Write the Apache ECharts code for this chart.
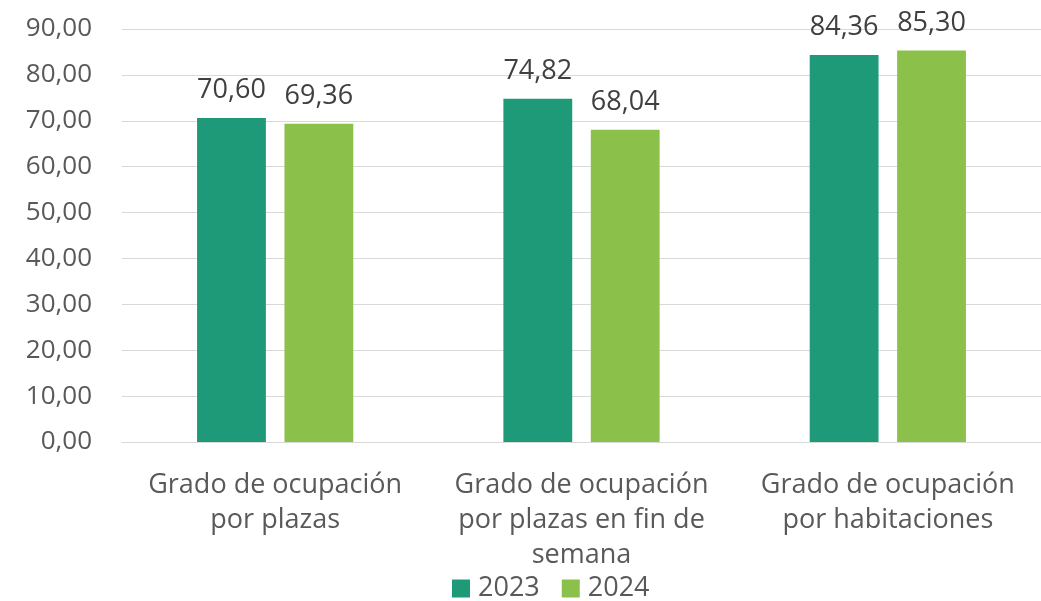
<!DOCTYPE html>
<html>
<head>
<meta charset="utf-8">
<script src="https://cdn.jsdelivr.net/npm/echarts@6/dist/echarts.min.js"></script>
<style>
  html, body { margin: 0; padding: 0; background: #ffffff; }
  #chart { width: 1041px; height: 601px; }
</style>
</head>
<body>
<div id="chart"></div>
<script>
const categories = [
  'Grado de ocupación\npor plazas',
  'Grado de ocupación\npor plazas en fin de\nsemana',
  'Grado de ocupación\npor habitaciones'
];
const values2023 = [70.60, 74.82, 84.36];
const values2024 = [69.36, 68.04, 85.30];
const seriesNames = ['2023', '2024'];

const fmt = v => v.toFixed(2).replace('.', ',');
const font = '"Open Sans", sans-serif';

const chart = echarts.init(document.getElementById('chart'));
chart.setOption({
  animation: false,
  textStyle: { fontFamily: font },
  grid: { left: 122, right: -4, top: 29, bottom: 159, containLabel: false },
  legend: {
    bottom: -6,
    left: 447,
    itemWidth: 18,
    itemHeight: 18,
    itemGap: 22,
    icon: 'rect',
    textStyle: { fontSize: 27, color: '#595959', fontFamily: font, padding: [0, 0, 0, 3] }
  },
  xAxis: {
    type: 'category',
    data: categories,
    axisLine: { lineStyle: { color: '#d9d9d9' } },
    axisTick: { show: false },
    axisLabel: {
      color: '#595959',
      fontSize: 27,
      lineHeight: 35,
      margin: 26,
      interval: 0,
      fontFamily: font
    }
  },
  yAxis: {
    type: 'value',
    min: 0,
    max: 90,
    interval: 10,
    axisLine: { show: false },
    axisTick: { show: false },
    splitLine: { lineStyle: { color: '#d9d9d9', width: 1 } },
    axisLabel: {
      color: '#595959',
      fontSize: 26,
      margin: 30,
      fontFamily: font,
      formatter: v => fmt(v)
    }
  },
  series: [
    {
      name: seriesNames[0],
      type: 'bar',
      data: values2023,
      barGap: '27%',
      barCategoryGap: '49%',
      itemStyle: { color: '#1e9a79' },
      label: {
        show: true, position: 'top', distance: 14,
        fontSize: 27, color: '#404040', fontFamily: font,
        formatter: p => fmt(p.value)
      }
    },
    {
      name: seriesNames[1],
      type: 'bar',
      data: values2024,
      itemStyle: { color: '#8bc14a' },
      label: {
        show: true, position: 'top', distance: 14,
        fontSize: 27, color: '#404040', fontFamily: font,
        formatter: p => fmt(p.value)
      }
    }
  ]
});
</script>
</body>
</html>
